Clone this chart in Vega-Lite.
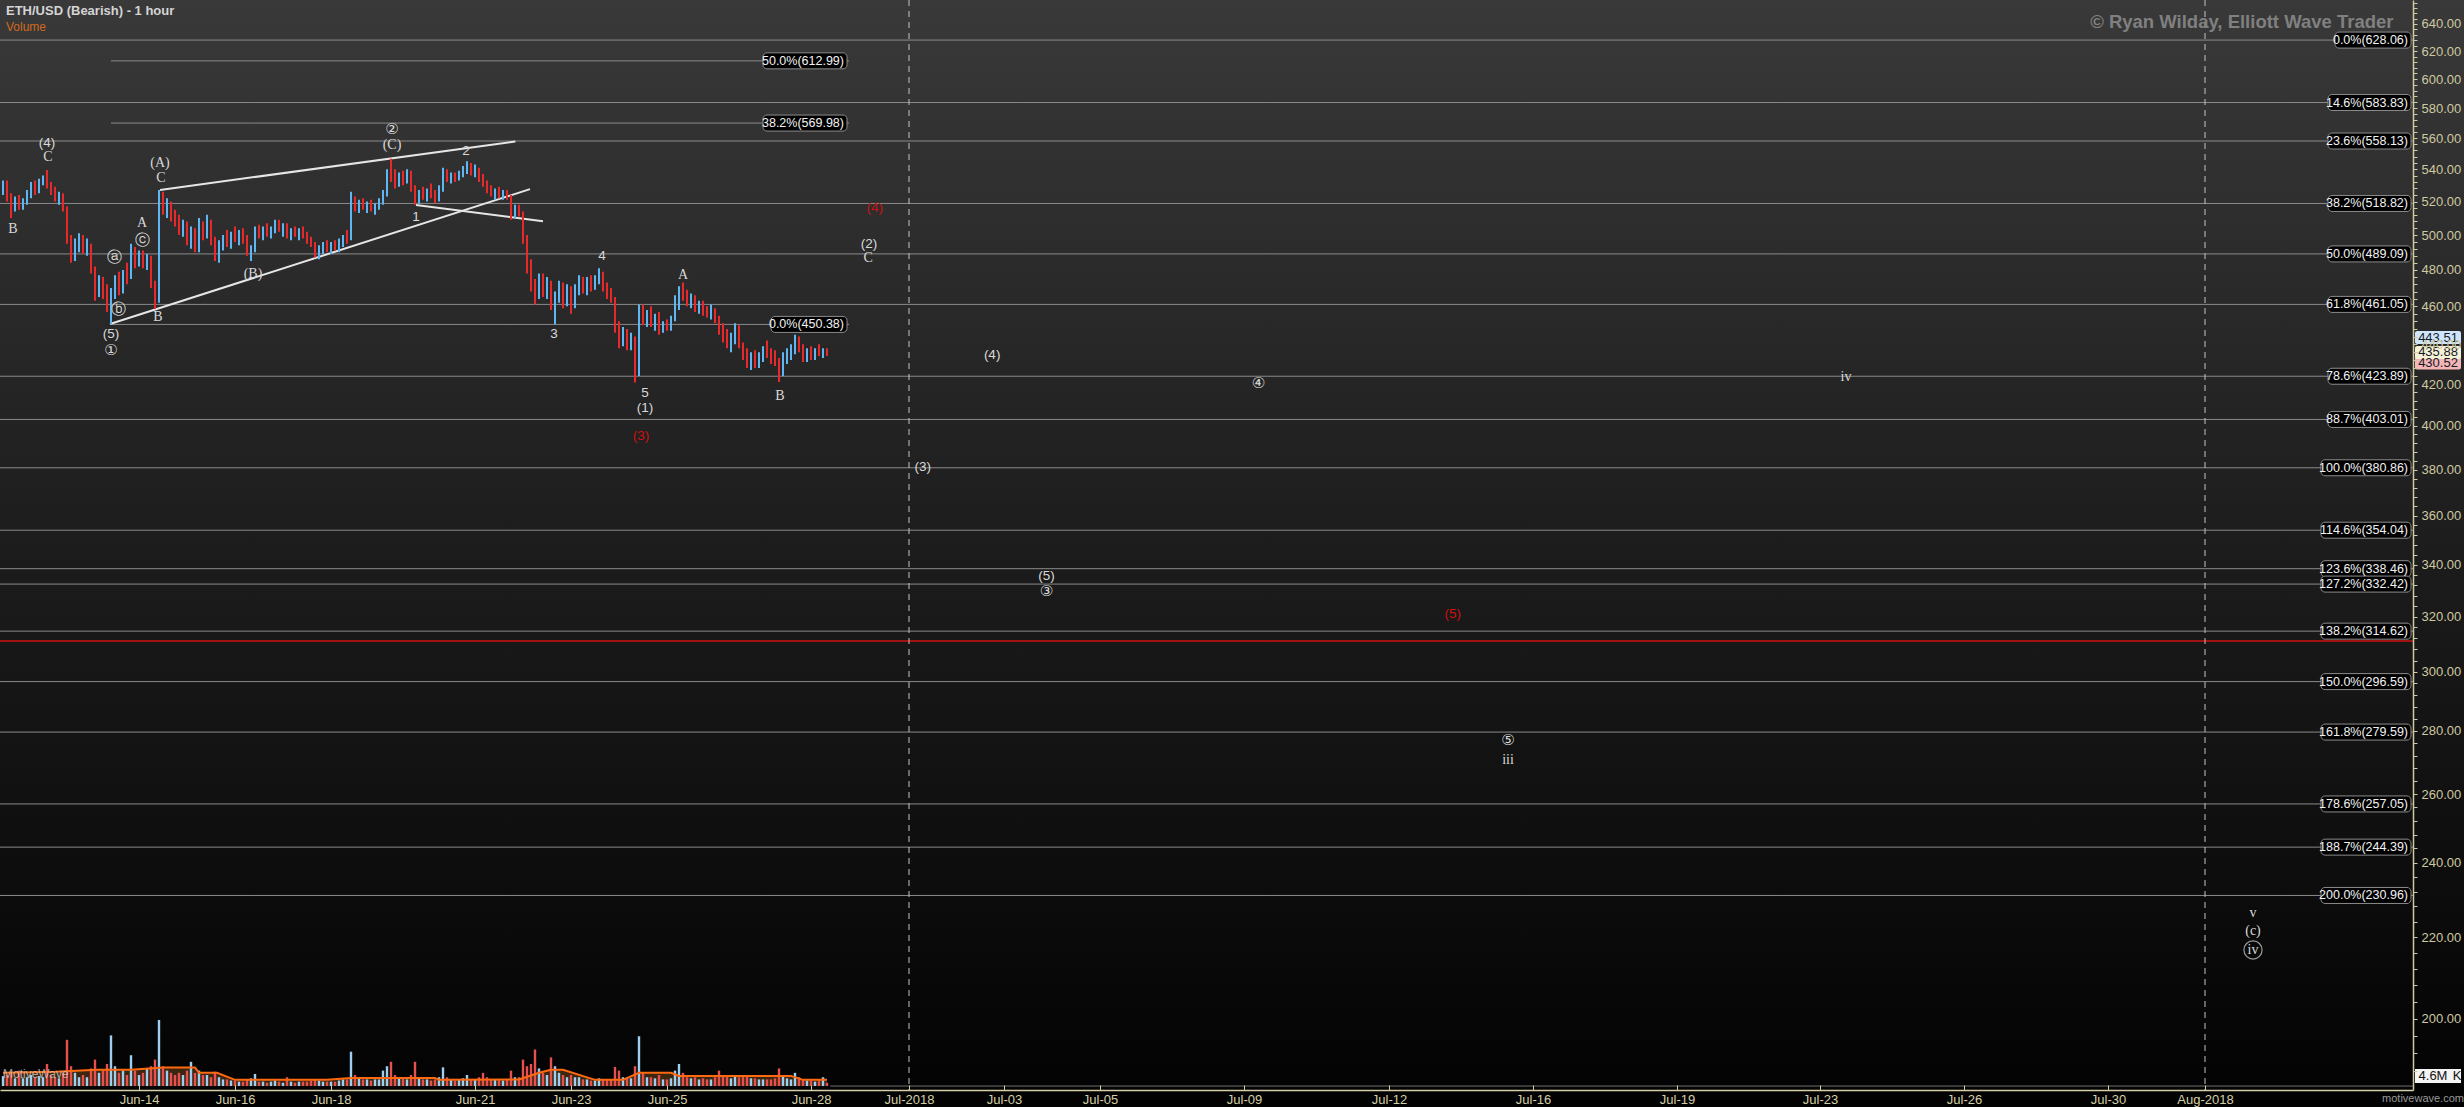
{
"$schema": "https://vega.github.io/schema/vega-lite/v6.json",
"width": 2413, "height": 1090,
"autosize": {"type": "none"},
"padding": {"left": 0, "top": 0, "right": 51, "bottom": 17},
"background": "#000000",
"config": {"view": {"stroke": null}, "font": "Liberation Sans"},
"title": {"text": "ETH/USD (Bearish) - 1 hour", "subtitle": "Volume", "anchor": "start", "frame": "group", "orient": "top", "offset": -36, "dx": 6, "font": "Liberation Sans", "fontSize": 13, "fontWeight": "bold", "color": "#d4d4d4", "subtitleFont": "Liberation Sans", "subtitleFontSize": 12, "subtitleColor": "#d2691e", "subtitlePadding": 4},
"datasets": {
"bars": [
{"t":"2018-06-11T04:00Z","o":528,"h":533,"l":524,"c":531,"v":4.5},
{"t":"2018-06-11T06:00Z","o":531,"h":533,"l":520,"c":522,"v":5},
{"t":"2018-06-11T08:00Z","o":522,"h":525,"l":510,"c":518,"v":6},
{"t":"2018-06-11T10:00Z","o":518,"h":523,"l":514,"c":521,"v":3.5},
{"t":"2018-06-11T12:00Z","o":521,"h":524,"l":515,"c":517,"v":7},
{"t":"2018-06-11T14:00Z","o":517,"h":522,"l":515,"c":520,"v":3.5},
{"t":"2018-06-11T16:00Z","o":520,"h":527,"l":518,"c":525,"v":4},
{"t":"2018-06-11T18:00Z","o":525,"h":532,"l":522,"c":529,"v":5},
{"t":"2018-06-11T20:00Z","o":529,"h":533,"l":524,"c":527,"v":4},
{"t":"2018-06-11T22:00Z","o":527,"h":534,"l":525,"c":532,"v":4.5},
{"t":"2018-06-12T00:00Z","o":532,"h":536,"l":530,"c":535,"v":4},
{"t":"2018-06-12T02:00Z","o":535,"h":539.5,"l":528,"c":530,"v":10},
{"t":"2018-06-12T04:00Z","o":530,"h":532,"l":524,"c":526,"v":5},
{"t":"2018-06-12T06:00Z","o":526,"h":529,"l":520,"c":522,"v":4},
{"t":"2018-06-12T08:00Z","o":522,"h":526,"l":518,"c":524,"v":3.5},
{"t":"2018-06-12T10:00Z","o":524,"h":525,"l":514,"c":516,"v":6},
{"t":"2018-06-12T12:00Z","o":516,"h":517,"l":495,"c":498,"v":21},
{"t":"2018-06-12T14:00Z","o":498,"h":500,"l":484,"c":489,"v":9},
{"t":"2018-06-12T16:00Z","o":489,"h":498,"l":485,"c":495,"v":6},
{"t":"2018-06-12T18:00Z","o":495,"h":501,"l":490,"c":498,"v":4},
{"t":"2018-06-12T20:00Z","o":498,"h":500,"l":489,"c":492,"v":5},
{"t":"2018-06-12T22:00Z","o":492,"h":498,"l":488,"c":494,"v":4},
{"t":"2018-06-13T00:00Z","o":494,"h":495,"l":478,"c":480,"v":8},
{"t":"2018-06-13T02:00Z","o":480,"h":482,"l":463,"c":468,"v":12},
{"t":"2018-06-13T04:00Z","o":468,"h":477,"l":465,"c":474,"v":6},
{"t":"2018-06-13T06:00Z","o":474,"h":476,"l":464,"c":467,"v":7},
{"t":"2018-06-13T08:00Z","o":467,"h":472,"l":457,"c":461,"v":10},
{"t":"2018-06-13T10:00Z","o":461,"h":470,"l":450.4,"c":466,"v":23},
{"t":"2018-06-13T12:00Z","o":466,"h":477,"l":464,"c":474,"v":9},
{"t":"2018-06-13T14:00Z","o":474,"h":479,"l":466,"c":469,"v":6},
{"t":"2018-06-13T16:00Z","o":469,"h":480,"l":467,"c":478,"v":7},
{"t":"2018-06-13T18:00Z","o":478,"h":484,"l":472,"c":476,"v":5},
{"t":"2018-06-13T20:00Z","o":476,"h":495,"l":475,"c":490,"v":14},
{"t":"2018-06-13T22:00Z","o":490,"h":493,"l":481,"c":484,"v":7},
{"t":"2018-06-14T00:00Z","o":484,"h":491,"l":482,"c":489,"v":5},
{"t":"2018-06-14T02:00Z","o":489,"h":491,"l":481,"c":483,"v":6},
{"t":"2018-06-14T04:00Z","o":483,"h":489,"l":480,"c":487,"v":8},
{"t":"2018-06-14T06:00Z","o":487,"h":488,"l":470,"c":472,"v":9},
{"t":"2018-06-14T08:00Z","o":472,"h":474,"l":458.6,"c":463,"v":12},
{"t":"2018-06-14T10:00Z","o":463,"h":527,"l":462,"c":520,"v":30},
{"t":"2018-06-14T12:00Z","o":520,"h":526,"l":512,"c":515,"v":9},
{"t":"2018-06-14T14:00Z","o":515,"h":522,"l":510,"c":518,"v":7},
{"t":"2018-06-14T16:00Z","o":518,"h":520,"l":508,"c":511,"v":6},
{"t":"2018-06-14T18:00Z","o":511,"h":515,"l":505,"c":508,"v":5},
{"t":"2018-06-14T20:00Z","o":508,"h":512,"l":500,"c":503,"v":6},
{"t":"2018-06-14T22:00Z","o":503,"h":509,"l":499,"c":506,"v":5},
{"t":"2018-06-15T00:00Z","o":506,"h":508,"l":494,"c":497,"v":7},
{"t":"2018-06-15T02:00Z","o":497,"h":505,"l":492,"c":502,"v":11},
{"t":"2018-06-15T04:00Z","o":502,"h":504,"l":490,"c":492,"v":6},
{"t":"2018-06-15T06:00Z","o":492,"h":510,"l":490,"c":506,"v":7},
{"t":"2018-06-15T08:00Z","o":506,"h":508,"l":497,"c":500,"v":5},
{"t":"2018-06-15T10:00Z","o":500,"h":512,"l":498,"c":508,"v":5},
{"t":"2018-06-15T12:00Z","o":508,"h":509,"l":494,"c":496,"v":4},
{"t":"2018-06-15T14:00Z","o":496,"h":499,"l":485,"c":488,"v":6.5},
{"t":"2018-06-15T16:00Z","o":488,"h":497,"l":484,"c":495,"v":4},
{"t":"2018-06-15T18:00Z","o":495,"h":500,"l":491,"c":498,"v":3},
{"t":"2018-06-15T20:00Z","o":498,"h":503,"l":493,"c":495,"v":3},
{"t":"2018-06-15T22:00Z","o":495,"h":502,"l":492,"c":500,"v":2.5},
{"t":"2018-06-16T00:00Z","o":500,"h":505,"l":496,"c":498,"v":2.5},
{"t":"2018-06-16T02:00Z","o":498,"h":503,"l":494,"c":501,"v":2},
{"t":"2018-06-16T04:00Z","o":501,"h":504,"l":495,"c":497,"v":2},
{"t":"2018-06-16T06:00Z","o":497,"h":500,"l":488,"c":490,"v":3},
{"t":"2018-06-16T08:00Z","o":490,"h":494,"l":485,"c":492,"v":3.5},
{"t":"2018-06-16T10:00Z","o":492,"h":505,"l":490,"c":503,"v":5.5},
{"t":"2018-06-16T12:00Z","o":503,"h":506,"l":498,"c":500,"v":2},
{"t":"2018-06-16T14:00Z","o":500,"h":505,"l":497,"c":503,"v":2},
{"t":"2018-06-16T16:00Z","o":503,"h":507,"l":499,"c":501,"v":1.5},
{"t":"2018-06-16T18:00Z","o":501,"h":505,"l":498,"c":504,"v":2},
{"t":"2018-06-16T20:00Z","o":504,"h":509,"l":501,"c":506,"v":2.5},
{"t":"2018-06-16T22:00Z","o":506,"h":509,"l":502,"c":503,"v":2},
{"t":"2018-06-17T00:00Z","o":503,"h":507,"l":499,"c":505,"v":1.5},
{"t":"2018-06-17T02:00Z","o":505,"h":507,"l":498,"c":500,"v":4},
{"t":"2018-06-17T04:00Z","o":500,"h":504,"l":497,"c":502,"v":2},
{"t":"2018-06-17T06:00Z","o":502,"h":505,"l":499,"c":500,"v":1.5},
{"t":"2018-06-17T08:00Z","o":500,"h":504,"l":497,"c":503,"v":2},
{"t":"2018-06-17T10:00Z","o":503,"h":505,"l":498,"c":499,"v":2},
{"t":"2018-06-17T12:00Z","o":499,"h":502,"l":495,"c":497,"v":2},
{"t":"2018-06-17T14:00Z","o":497,"h":499,"l":493,"c":494,"v":2.5},
{"t":"2018-06-17T16:00Z","o":494,"h":496,"l":487,"c":489,"v":3},
{"t":"2018-06-17T18:00Z","o":489,"h":494,"l":486,"c":492,"v":2.5},
{"t":"2018-06-17T20:00Z","o":492,"h":496,"l":489,"c":494,"v":2},
{"t":"2018-06-17T22:00Z","o":494,"h":497,"l":490,"c":492,"v":2},
{"t":"2018-06-18T00:00Z","o":492,"h":496,"l":489,"c":495,"v":2},
{"t":"2018-06-18T02:00Z","o":495,"h":497,"l":491,"c":493,"v":2},
{"t":"2018-06-18T04:00Z","o":493,"h":498,"l":490,"c":496,"v":2.5},
{"t":"2018-06-18T06:00Z","o":496,"h":500,"l":493,"c":499,"v":3},
{"t":"2018-06-18T08:00Z","o":499,"h":503,"l":495,"c":498,"v":3},
{"t":"2018-06-18T10:00Z","o":498,"h":526,"l":497,"c":520,"v":15.6},
{"t":"2018-06-18T12:00Z","o":520,"h":523,"l":514,"c":517,"v":5},
{"t":"2018-06-18T14:00Z","o":517,"h":521,"l":513,"c":519,"v":3.5},
{"t":"2018-06-18T16:00Z","o":519,"h":522,"l":515,"c":516,"v":3},
{"t":"2018-06-18T18:00Z","o":516,"h":520,"l":513,"c":518,"v":3},
{"t":"2018-06-18T20:00Z","o":518,"h":521,"l":514,"c":515,"v":2.5},
{"t":"2018-06-18T22:00Z","o":515,"h":519,"l":512,"c":517,"v":3},
{"t":"2018-06-19T00:00Z","o":517,"h":522,"l":515,"c":520,"v":3},
{"t":"2018-06-19T02:00Z","o":520,"h":527,"l":518,"c":525,"v":7},
{"t":"2018-06-19T04:00Z","o":525,"h":540,"l":523,"c":537,"v":9},
{"t":"2018-06-19T06:00Z","o":537,"h":546.6,"l":532,"c":535,"v":11},
{"t":"2018-06-19T08:00Z","o":535,"h":540,"l":528,"c":531,"v":5},
{"t":"2018-06-19T10:00Z","o":531,"h":538,"l":529,"c":536,"v":4},
{"t":"2018-06-19T12:00Z","o":536,"h":539,"l":530,"c":533,"v":3.5},
{"t":"2018-06-19T14:00Z","o":533,"h":540,"l":531,"c":538,"v":3},
{"t":"2018-06-19T16:00Z","o":538,"h":539,"l":526,"c":528,"v":5},
{"t":"2018-06-19T18:00Z","o":528,"h":530,"l":518,"c":521,"v":11},
{"t":"2018-06-19T20:00Z","o":521,"h":527,"l":519,"c":525,"v":4},
{"t":"2018-06-19T22:00Z","o":525,"h":529,"l":521,"c":523,"v":3},
{"t":"2018-06-20T00:00Z","o":523,"h":528,"l":520,"c":527,"v":3},
{"t":"2018-06-20T02:00Z","o":527,"h":531,"l":522,"c":524,"v":2.5},
{"t":"2018-06-20T04:00Z","o":524,"h":527,"l":519,"c":522,"v":3},
{"t":"2018-06-20T06:00Z","o":522,"h":530,"l":520,"c":528,"v":4},
{"t":"2018-06-20T08:00Z","o":528,"h":541,"l":526,"c":538,"v":8.5},
{"t":"2018-06-20T10:00Z","o":538,"h":540,"l":532,"c":534,"v":4},
{"t":"2018-06-20T12:00Z","o":534,"h":538,"l":531,"c":536,"v":3},
{"t":"2018-06-20T14:00Z","o":536,"h":538,"l":532,"c":534,"v":2.5},
{"t":"2018-06-20T16:00Z","o":534,"h":539,"l":533,"c":538,"v":3},
{"t":"2018-06-20T18:00Z","o":538,"h":542,"l":535,"c":540,"v":3.5},
{"t":"2018-06-20T20:00Z","o":540,"h":545,"l":537,"c":541,"v":5},
{"t":"2018-06-20T22:00Z","o":541,"h":544,"l":536,"c":538,"v":3},
{"t":"2018-06-21T00:00Z","o":538,"h":543,"l":535,"c":540,"v":3},
{"t":"2018-06-21T02:00Z","o":540,"h":541,"l":532,"c":534,"v":4},
{"t":"2018-06-21T04:00Z","o":534,"h":537,"l":529,"c":531,"v":6},
{"t":"2018-06-21T06:00Z","o":531,"h":533,"l":525,"c":527,"v":4},
{"t":"2018-06-21T08:00Z","o":527,"h":530,"l":523,"c":525,"v":3},
{"t":"2018-06-21T10:00Z","o":525,"h":528,"l":521,"c":526,"v":3},
{"t":"2018-06-21T12:00Z","o":526,"h":529,"l":522,"c":523,"v":3},
{"t":"2018-06-21T14:00Z","o":523,"h":527,"l":521,"c":525,"v":2.5},
{"t":"2018-06-21T16:00Z","o":525,"h":527,"l":521,"c":522,"v":3},
{"t":"2018-06-21T18:00Z","o":522,"h":524,"l":509,"c":512,"v":7},
{"t":"2018-06-21T20:00Z","o":512,"h":518,"l":510,"c":516,"v":4},
{"t":"2018-06-21T22:00Z","o":516,"h":518,"l":511,"c":513,"v":4},
{"t":"2018-06-22T00:00Z","o":513,"h":514,"l":495,"c":498,"v":12},
{"t":"2018-06-22T02:00Z","o":498,"h":500,"l":478,"c":482,"v":9},
{"t":"2018-06-22T04:00Z","o":482,"h":486,"l":468,"c":472,"v":10},
{"t":"2018-06-22T06:00Z","o":472,"h":475,"l":461,"c":466,"v":16.6},
{"t":"2018-06-22T08:00Z","o":466,"h":478,"l":464,"c":475,"v":8},
{"t":"2018-06-22T10:00Z","o":475,"h":478,"l":465,"c":468,"v":6},
{"t":"2018-06-22T12:00Z","o":468,"h":476,"l":464,"c":472,"v":5},
{"t":"2018-06-22T14:00Z","o":472,"h":474,"l":458,"c":461,"v":13},
{"t":"2018-06-22T16:00Z","o":461,"h":468,"l":450.4,"c":465,"v":9},
{"t":"2018-06-22T18:00Z","o":465,"h":474,"l":462,"c":470,"v":6},
{"t":"2018-06-22T20:00Z","o":470,"h":473,"l":459,"c":463,"v":5},
{"t":"2018-06-22T22:00Z","o":463,"h":472,"l":460,"c":468,"v":4},
{"t":"2018-06-23T00:00Z","o":468,"h":471,"l":456,"c":462,"v":5},
{"t":"2018-06-23T02:00Z","o":462,"h":472,"l":459,"c":469,"v":4},
{"t":"2018-06-23T04:00Z","o":469,"h":477,"l":466,"c":474,"v":4},
{"t":"2018-06-23T06:00Z","o":474,"h":476,"l":467,"c":470,"v":3},
{"t":"2018-06-23T08:00Z","o":470,"h":476,"l":466,"c":473,"v":3},
{"t":"2018-06-23T10:00Z","o":473,"h":477,"l":468,"c":471,"v":2.5},
{"t":"2018-06-23T12:00Z","o":471,"h":477,"l":469,"c":475,"v":2.5},
{"t":"2018-06-23T14:00Z","o":475,"h":481,"l":472,"c":478,"v":3.5},
{"t":"2018-06-23T16:00Z","o":478,"h":479,"l":468,"c":470,"v":3},
{"t":"2018-06-23T18:00Z","o":470,"h":473,"l":464,"c":467,"v":3},
{"t":"2018-06-23T20:00Z","o":467,"h":470,"l":462,"c":464,"v":3},
{"t":"2018-06-23T22:00Z","o":464,"h":465,"l":446,"c":449,"v":8.7},
{"t":"2018-06-24T00:00Z","o":449,"h":452,"l":438,"c":441,"v":7},
{"t":"2018-06-24T02:00Z","o":441,"h":449,"l":439,"c":446,"v":4},
{"t":"2018-06-24T04:00Z","o":446,"h":448,"l":437,"c":440,"v":4},
{"t":"2018-06-24T06:00Z","o":440,"h":446,"l":437,"c":443,"v":3.5},
{"t":"2018-06-24T08:00Z","o":443,"h":444,"l":420.8,"c":425,"v":9},
{"t":"2018-06-24T10:00Z","o":425,"h":461,"l":424,"c":455,"v":22.6},
{"t":"2018-06-24T12:00Z","o":455,"h":461,"l":450,"c":452,"v":6},
{"t":"2018-06-24T14:00Z","o":452,"h":458,"l":449,"c":456,"v":4},
{"t":"2018-06-24T16:00Z","o":456,"h":460,"l":449,"c":451,"v":4},
{"t":"2018-06-24T18:00Z","o":451,"h":456,"l":447,"c":454,"v":3.5},
{"t":"2018-06-24T20:00Z","o":454,"h":457,"l":445,"c":448,"v":5},
{"t":"2018-06-24T22:00Z","o":448,"h":452,"l":446,"c":450,"v":3},
{"t":"2018-06-25T00:00Z","o":450,"h":453,"l":447,"c":449,"v":3},
{"t":"2018-06-25T02:00Z","o":449,"h":455,"l":447,"c":453,"v":3.5},
{"t":"2018-06-25T04:00Z","o":453,"h":466,"l":452,"c":463,"v":7},
{"t":"2018-06-25T06:00Z","o":463,"h":471,"l":458,"c":468,"v":10},
{"t":"2018-06-25T08:00Z","o":468,"h":473,"l":463,"c":465,"v":6},
{"t":"2018-06-25T10:00Z","o":465,"h":469,"l":460,"c":462,"v":4},
{"t":"2018-06-25T12:00Z","o":462,"h":467,"l":459,"c":464,"v":3.5},
{"t":"2018-06-25T14:00Z","o":464,"h":466,"l":457,"c":459,"v":4},
{"t":"2018-06-25T16:00Z","o":459,"h":463,"l":456,"c":461,"v":3},
{"t":"2018-06-25T18:00Z","o":461,"h":463,"l":455,"c":457,"v":3.5},
{"t":"2018-06-25T20:00Z","o":457,"h":460,"l":454,"c":456,"v":3},
{"t":"2018-06-25T22:00Z","o":456,"h":461,"l":453,"c":458,"v":3},
{"t":"2018-06-26T00:00Z","o":458,"h":459,"l":451,"c":453,"v":4},
{"t":"2018-06-26T02:00Z","o":453,"h":455,"l":445,"c":447,"v":7},
{"t":"2018-06-26T04:00Z","o":447,"h":451,"l":441,"c":444,"v":5},
{"t":"2018-06-26T06:00Z","o":444,"h":448,"l":438,"c":441,"v":4.5},
{"t":"2018-06-26T08:00Z","o":441,"h":446,"l":436,"c":443,"v":3.5},
{"t":"2018-06-26T10:00Z","o":443,"h":451,"l":440,"c":448,"v":5},
{"t":"2018-06-26T12:00Z","o":448,"h":450,"l":438,"c":440,"v":4},
{"t":"2018-06-26T14:00Z","o":440,"h":441,"l":432,"c":434,"v":5},
{"t":"2018-06-26T16:00Z","o":434,"h":438,"l":428,"c":431,"v":4.5},
{"t":"2018-06-26T18:00Z","o":431,"h":436,"l":427,"c":434,"v":3.5},
{"t":"2018-06-26T20:00Z","o":434,"h":437,"l":428,"c":430,"v":3.5},
{"t":"2018-06-26T22:00Z","o":430,"h":436,"l":428,"c":434,"v":3},
{"t":"2018-06-27T00:00Z","o":434,"h":439,"l":431,"c":437,"v":3},
{"t":"2018-06-27T02:00Z","o":437,"h":442,"l":433,"c":435,"v":3},
{"t":"2018-06-27T04:00Z","o":435,"h":438,"l":430,"c":432,"v":3},
{"t":"2018-06-27T06:00Z","o":432,"h":437,"l":429,"c":431,"v":3.5},
{"t":"2018-06-27T08:00Z","o":431,"h":433,"l":421,"c":426,"v":8},
{"t":"2018-06-27T10:00Z","o":426,"h":436,"l":424,"c":434,"v":5},
{"t":"2018-06-27T12:00Z","o":434,"h":438,"l":430,"c":436,"v":3.5},
{"t":"2018-06-27T14:00Z","o":436,"h":440,"l":432,"c":438,"v":3},
{"t":"2018-06-27T16:00Z","o":438,"h":445,"l":435,"c":443,"v":6},
{"t":"2018-06-27T18:00Z","o":443,"h":444,"l":436,"c":438,"v":4},
{"t":"2018-06-27T20:00Z","o":438,"h":440,"l":431,"c":433,"v":3},
{"t":"2018-06-27T22:00Z","o":433,"h":438,"l":431,"c":436,"v":2.5},
{"t":"2018-06-28T00:00Z","o":436,"h":439,"l":432,"c":434,"v":2.5},
{"t":"2018-06-28T02:00Z","o":434,"h":438,"l":432,"c":437,"v":2},
{"t":"2018-06-28T04:00Z","o":437,"h":440,"l":434,"c":435,"v":2.5},
{"t":"2018-06-28T06:00Z","o":435,"h":438,"l":433,"c":437,"v":4},
{"t":"2018-06-28T08:00Z","o":437,"h":438,"l":434,"c":435.88,"v":1.5}
],
"ma": [
{"t":"2018-06-11T04:00Z","v":6},{"t":"2018-06-12T06:00Z","v":6.5},{"t":"2018-06-13T03:00Z","v":7.4},{"t":"2018-06-13T20:00Z","v":7.4},{"t":"2018-06-14T12:00Z","v":8.4},{"t":"2018-06-15T04:00Z","v":8.4},{"t":"2018-06-15T06:00Z","v":6},{"t":"2018-06-15T15:00Z","v":6},{"t":"2018-06-16T00:00Z","v":2.8},{"t":"2018-06-17T22:00Z","v":2.8},{"t":"2018-06-18T10:00Z","v":3.7},{"t":"2018-06-20T04:00Z","v":3.7},{"t":"2018-06-20T06:00Z","v":2.8},{"t":"2018-06-21T22:00Z","v":3},{"t":"2018-06-22T08:00Z","v":6},{"t":"2018-06-22T14:00Z","v":7.4},{"t":"2018-06-22T20:00Z","v":7.4},{"t":"2018-06-23T12:00Z","v":2.8},{"t":"2018-06-24T02:00Z","v":2.8},{"t":"2018-06-24T10:00Z","v":6},{"t":"2018-06-25T02:00Z","v":6},{"t":"2018-06-25T06:00Z","v":4.6},{"t":"2018-06-27T14:00Z","v":4.6},{"t":"2018-06-27T20:00Z","v":2.8},{"t":"2018-06-28T08:00Z","v":2.8}
],
"fib": [
{"set":"A","p":628.06,"label":"0.0%(628.06)"},
{"set":"A","p":583.83,"label":"14.6%(583.83)"},
{"set":"A","p":558.13,"label":"23.6%(558.13)"},
{"set":"A","p":518.82,"label":"38.2%(518.82)"},
{"set":"A","p":489.09,"label":"50.0%(489.09)"},
{"set":"A","p":461.05,"label":"61.8%(461.05)"},
{"set":"A","p":423.89,"label":"78.6%(423.89)"},
{"set":"A","p":403.01,"label":"88.7%(403.01)"},
{"set":"A","p":380.86,"label":"100.0%(380.86)"},
{"set":"A","p":354.04,"label":"114.6%(354.04)"},
{"set":"A","p":338.46,"label":"123.6%(338.46)"},
{"set":"A","p":332.42,"label":"127.2%(332.42)"},
{"set":"A","p":314.62,"label":"138.2%(314.62)"},
{"set":"A","p":296.59,"label":"150.0%(296.59)"},
{"set":"A","p":279.59,"label":"161.8%(279.59)"},
{"set":"A","p":257.05,"label":"178.6%(257.05)"},
{"set":"A","p":244.39,"label":"188.7%(244.39)"},
{"set":"A","p":230.96,"label":"200.0%(230.96)"},
{"set":"B","p":612.99,"label":"50.0%(612.99)"},
{"set":"B","p":569.98,"label":"38.2%(569.98)"},
{"set":"B","p":450.38,"label":"0.0%(450.38)"}
],
"trend": [
{"id":1,"t":"2018-06-13T09:30Z","p":450.6},{"id":1,"t":"2018-06-22T03:30Z","p":527.6},
{"id":2,"t":"2018-06-14T10:30Z","p":527.1},{"id":2,"t":"2018-06-21T20:12Z","p":557.8},
{"id":3,"t":"2018-06-19T18:30Z","p":517.9},{"id":3,"t":"2018-06-22T10:00Z","p":508.1}
],
"waves": [
{"t":"2018-06-12T02:30Z","p":547.8,"label":"C","kind":"letter"},
{"t":"2018-06-11T09:00Z","p":503.6,"label":"B","kind":"letter"},
{"t":"2018-06-14T10:30Z","p":544.0,"label":"(A)","kind":"letter"},
{"t":"2018-06-14T11:00Z","p":534.5,"label":"C","kind":"letter"},
{"t":"2018-06-14T01:30Z","p":507.1,"label":"A","kind":"letter"},
{"t":"2018-06-14T09:30Z","p":454.3,"label":"B","kind":"letter"},
{"t":"2018-06-16T09:00Z","p":477.7,"label":"(B)","kind":"letter"},
{"t":"2018-06-19T06:30Z","p":555.5,"label":"(C)","kind":"letter"},
{"t":"2018-06-25T08:00Z","p":477.2,"label":"A","kind":"letter"},
{"t":"2018-06-27T08:30Z","p":414.2,"label":"B","kind":"letter"},
{"t":"2018-06-29T15:45Z","p":486.8,"label":"C","kind":"letter"},
{"t":"2018-07-15T07:20Z","p":270.6,"label":"iii","kind":"letter"},
{"t":"2018-07-23T13:00Z","p":423.5,"label":"iv","kind":"letter"},
{"t":"2018-08-02T00:00Z","p":226.3,"label":"v","kind":"letter"},
{"t":"2018-08-02T00:00Z","p":221.6,"label":"(c)","kind":"letter"},
{"t":"2018-08-02T00:00Z","p":216.7,"label":"iv","kind":"ringed"},
{"t":"2018-06-12T02:00Z","p":556.8,"label":"(4)","kind":"number"},
{"t":"2018-06-13T10:00Z","p":445.4,"label":"(5)","kind":"number"},
{"t":"2018-06-19T18:30Z","p":510.7,"label":"1","kind":"number"},
{"t":"2018-06-20T19:30Z","p":551.7,"label":"2","kind":"number"},
{"t":"2018-06-22T15:30Z","p":445.4,"label":"3","kind":"number"},
{"t":"2018-06-23T15:30Z","p":487.9,"label":"4","kind":"number"},
{"t":"2018-06-24T13:00Z","p":415.7,"label":"5","kind":"number"},
{"t":"2018-06-24T13:00Z","p":408.4,"label":"(1)","kind":"number"},
{"t":"2018-06-29T16:30Z","p":494.8,"label":"(2)","kind":"number"},
{"t":"2018-07-01T07:00Z","p":381.2,"label":"(3)","kind":"number"},
{"t":"2018-07-02T18:00Z","p":434.6,"label":"(4)","kind":"number"},
{"t":"2018-07-03T21:15Z","p":335.6,"label":"(5)","kind":"number"},
{"t":"2018-06-13T10:00Z","p":437.1,"label":"①","kind":"circled"},
{"t":"2018-06-13T11:30Z","p":487.4,"label":"ⓐ","kind":"circled"},
{"t":"2018-06-13T13:30Z","p":458.6,"label":"ⓑ","kind":"circled"},
{"t":"2018-06-14T01:30Z","p":497.1,"label":"ⓒ","kind":"circled"},
{"t":"2018-06-19T06:30Z","p":566.0,"label":"②","kind":"circled"},
{"t":"2018-07-03T21:15Z","p":329.8,"label":"③","kind":"circled"},
{"t":"2018-07-09T07:12Z","p":420.7,"label":"④","kind":"circled"},
{"t":"2018-07-15T07:20Z","p":277.0,"label":"⑤","kind":"circled"},
{"t":"2018-06-29T21:00Z","p":516.1,"label":"(4)","kind":"alt"},
{"t":"2018-06-24T11:00Z","p":395.3,"label":"(3)","kind":"alt"},
{"t":"2018-07-13T18:30Z","p":321.0,"label":"(5)","kind":"alt"}
],
"months": [{"t":"2018-07-01T00:00Z"},{"t":"2018-08-01T00:00Z"}],
"levels": [{"p":311}],
"tags": [{"kind":"low","p":430.52,"label":"430.52"},{"kind":"last","p":435.88,"label":"435.88"},{"kind":"high","p":443.51,"label":"443.51"}],
"voltag": [{"v":4.6,"label":"4.6M"}]
},
"layer": [
{
"layer": [
{
"data": {"values": [{}]},
"mark": {"type": "rect", "stroke": null, "fill": {"gradient": "linear", "x1": 0, "y1": 0, "x2": 0, "y2": 1, "stops": [{"offset": 0, "color": "#393939"}, {"offset": 0.5, "color": "#1c1c1c"}, {"offset": 1, "color": "#020202"}]}},
"encoding": {
"x": {"datum": {"year": 2018, "month": 6, "date": 11, "hours": 2, "minutes": 30, "utc": true}, "type": "temporal",
"scale": {"type": "utc", "nice": false,
"domainRaw": {"expr": "[utc(2018,5,11,2,30), utc(2018,5,28,9), utc(2018,6,1), utc(2018,6,3), utc(2018,6,5), utc(2018,6,9), utc(2018,6,12), utc(2018,6,16), utc(2018,6,19), utc(2018,6,23), utc(2018,6,26), utc(2018,6,30), utc(2018,7,1), utc(2018,7,5,8)]"},
"range": [0, 829, 909, 1004, 1100, 1244, 1389, 1533, 1677, 1820, 1964, 2108, 2205, 2413]}},
"x2": {"datum": {"year": 2018, "month": 8, "date": 6, "hours": 12, "utc": true}},
"y": {"datum": 658.2, "type": "quantitative", "scale": {"type": "log", "domain": [183.96, 658.2], "nice": false}},
"y2": {"datum": 180}
}
},
{
"data": {"name": "fib"}, "transform": [{"filter": "datum.set === 'A'"}],
"mark": {"type": "rule", "color": "#8a8a8a", "strokeWidth": 1},
"encoding": {
"x": {"datum": {"year": 2018, "month": 6, "date": 11, "hours": 2, "minutes": 30, "utc": true}, "type": "temporal"},
"x2": {"datum": {"year": 2018, "month": 8, "date": 5, "hours": 8, "utc": true}},
"y": {"field": "p", "type": "quantitative"}
}
},
{
"data": {"name": "fib"}, "transform": [{"filter": "datum.set === 'B'"}],
"mark": {"type": "rule", "color": "#8a8a8a", "strokeWidth": 1},
"encoding": {
"x": {"datum": {"year": 2018, "month": 6, "date": 13, "hours": 10, "utc": true}, "type": "temporal"},
"x2": {"datum": {"year": 2018, "month": 6, "date": 29, "hours": 0, "minutes": 45, "utc": true}},
"y": {"field": "p", "type": "quantitative"}
}
},
{
"data": {"name": "levels"},
"mark": {"type": "rule", "color": "#cf1010", "strokeWidth": 1.5},
"encoding": {"y": {"field": "p", "type": "quantitative"}}
},
{
"data": {"name": "months"},
"mark": {"type": "rule", "color": "#c4c4c4", "strokeWidth": 1, "strokeDash": [6, 5]},
"encoding": {"x": {"field": "t", "type": "temporal"}}
},
{
"data": {"name": "trend"},
"mark": {"type": "line", "color": "#e6e6e6", "strokeWidth": 2},
"encoding": {
"x": {"field": "t", "type": "temporal"},
"y": {"field": "p", "type": "quantitative"},
"detail": {"field": "id", "type": "nominal"}
}
},
{
"data": {"name": "bars"},
"mark": {"type": "rule", "strokeWidth": 2},
"encoding": {
"x": {"field": "t", "type": "temporal",
"axis": {"title": null, "zindex": 1, "grid": false,
"values": [
{"year": 2018, "month": 6, "date": 14, "utc": true},
{"year": 2018, "month": 6, "date": 16, "utc": true},
{"year": 2018, "month": 6, "date": 18, "utc": true},
{"year": 2018, "month": 6, "date": 21, "utc": true},
{"year": 2018, "month": 6, "date": 23, "utc": true},
{"year": 2018, "month": 6, "date": 25, "utc": true},
{"year": 2018, "month": 6, "date": 28, "utc": true},
{"year": 2018, "month": 7, "date": 1, "utc": true},
{"year": 2018, "month": 7, "date": 3, "utc": true},
{"year": 2018, "month": 7, "date": 5, "utc": true},
{"year": 2018, "month": 7, "date": 9, "utc": true},
{"year": 2018, "month": 7, "date": 12, "utc": true},
{"year": 2018, "month": 7, "date": 16, "utc": true},
{"year": 2018, "month": 7, "date": 19, "utc": true},
{"year": 2018, "month": 7, "date": 23, "utc": true},
{"year": 2018, "month": 7, "date": 26, "utc": true},
{"year": 2018, "month": 7, "date": 30, "utc": true},
{"year": 2018, "month": 8, "date": 1, "utc": true}],
"labelExpr": "utcdate(datum.value) === 1 ? utcFormat(datum.value, '%b-%Y') : utcFormat(datum.value, '%b-%d')",
"labelColor": "#d6d0a8", "labelFont": "Liberation Sans", "labelFontSize": 13,
"domainColor": "#d6d0a8", "domainWidth": 1.5, "tickColor": "#d6d0a8", "tickSize": -5, "labelPadding": 8,
"labelOverlap": false, "labelFlush": false, "labelBound": false}},
"y": {"field": "l", "type": "quantitative",
"axis": {"orient": "right", "title": null, "zindex": 1, "grid": false,
"values": [188,192,196,200,204,208,212,216,220,224,228,232,236,240,244,248,252,256,260,264,268,272,276,280,284,288,292,296,300,304,308,312,316,320,324,328,332,336,340,344,348,352,356,360,364,368,372,376,380,384,388,392,396,400,404,408,412,416,420,424,428,432,436,440,444,448,452,456,460,464,468,472,476,480,484,488,492,496,500,504,508,512,516,520,524,528,532,536,540,544,548,552,556,560,564,568,572,576,580,584,588,592,596,600,604,608,612,616,620,624,628,632,636,640,644,648,652,656],
"labelExpr": "datum.value % 20 === 0 ? format(datum.value, '.2f') : ''",
"tickSize": 4, "labelPadding": 4, "labelColor": "#cfc9a0", "labelFont": "Liberation Sans", "labelFontSize": 13,
"domainColor": "#cfc9a0", "domainWidth": 1.5, "tickColor": "#cfc9a0",
"labelOverlap": false, "labelFlush": false, "labelBound": false}},
"y2": {"field": "h"},
"color": {"condition": {"test": "datum.c >= datum.o", "value": "#5fb6f2"}, "value": "#e8292c"}
}
},
{
"data": {"name": "fib"}, "transform": [{"filter": "datum.set === 'A' && length(datum.label) === 14"}],
"mark": {"type": "rect", "fill": "#000000", "stroke": "#8c8c8c", "strokeWidth": 1, "cornerRadius": 4, "xOffset": -92, "x2Offset": -2, "yOffset": -8, "y2Offset": 8},
"encoding": {
"x": {"datum": {"year": 2018, "month": 8, "date": 5, "hours": 8, "utc": true}, "type": "temporal"},
"x2": {"datum": {"year": 2018, "month": 8, "date": 5, "hours": 8, "utc": true}},
"y": {"field": "p", "type": "quantitative"}, "y2": {"field": "p"}
}
},
{
"data": {"name": "fib"}, "transform": [{"filter": "datum.set === 'A' && length(datum.label) === 13"}],
"mark": {"type": "rect", "fill": "#000000", "stroke": "#8c8c8c", "strokeWidth": 1, "cornerRadius": 4, "xOffset": -85, "x2Offset": -2, "yOffset": -8, "y2Offset": 8},
"encoding": {
"x": {"datum": {"year": 2018, "month": 8, "date": 5, "hours": 8, "utc": true}, "type": "temporal"},
"x2": {"datum": {"year": 2018, "month": 8, "date": 5, "hours": 8, "utc": true}},
"y": {"field": "p", "type": "quantitative"}, "y2": {"field": "p"}
}
},
{
"data": {"name": "fib"}, "transform": [{"filter": "datum.set === 'A' && length(datum.label) === 12"}],
"mark": {"type": "rect", "fill": "#000000", "stroke": "#8c8c8c", "strokeWidth": 1, "cornerRadius": 4, "xOffset": -78, "x2Offset": -2, "yOffset": -8, "y2Offset": 8},
"encoding": {
"x": {"datum": {"year": 2018, "month": 8, "date": 5, "hours": 8, "utc": true}, "type": "temporal"},
"x2": {"datum": {"year": 2018, "month": 8, "date": 5, "hours": 8, "utc": true}},
"y": {"field": "p", "type": "quantitative"}, "y2": {"field": "p"}
}
},
{
"data": {"name": "fib"}, "transform": [{"filter": "datum.set === 'B' && length(datum.label) === 13"}],
"mark": {"type": "rect", "fill": "#000000", "stroke": "#8c8c8c", "strokeWidth": 1, "cornerRadius": 4, "xOffset": -86, "x2Offset": -2, "yOffset": -8, "y2Offset": 8},
"encoding": {
"x": {"datum": {"year": 2018, "month": 6, "date": 29, "hours": 0, "minutes": 45, "utc": true}, "type": "temporal"},
"x2": {"datum": {"year": 2018, "month": 6, "date": 29, "hours": 0, "minutes": 45, "utc": true}},
"y": {"field": "p", "type": "quantitative"}, "y2": {"field": "p"}
}
},
{
"data": {"name": "fib"}, "transform": [{"filter": "datum.set === 'B' && length(datum.label) === 12"}],
"mark": {"type": "rect", "fill": "#000000", "stroke": "#8c8c8c", "strokeWidth": 1, "cornerRadius": 4, "xOffset": -78, "x2Offset": -2, "yOffset": -8, "y2Offset": 8},
"encoding": {
"x": {"datum": {"year": 2018, "month": 6, "date": 29, "hours": 0, "minutes": 45, "utc": true}, "type": "temporal"},
"x2": {"datum": {"year": 2018, "month": 6, "date": 29, "hours": 0, "minutes": 45, "utc": true}},
"y": {"field": "p", "type": "quantitative"}, "y2": {"field": "p"}
}
},
{
"data": {"name": "fib"}, "transform": [{"filter": "datum.set === 'A'"}],
"mark": {"type": "text", "align": "right", "dx": -5, "font": "Liberation Sans", "fontSize": 12.5, "color": "#f2f2f2"},
"encoding": {
"x": {"datum": {"year": 2018, "month": 8, "date": 5, "hours": 8, "utc": true}, "type": "temporal"},
"y": {"field": "p", "type": "quantitative"},
"text": {"field": "label"}
}
},
{
"data": {"name": "fib"}, "transform": [{"filter": "datum.set === 'B'"}],
"mark": {"type": "text", "align": "right", "dx": -5, "font": "Liberation Sans", "fontSize": 12.5, "color": "#f2f2f2"},
"encoding": {
"x": {"datum": {"year": 2018, "month": 6, "date": 29, "hours": 0, "minutes": 45, "utc": true}, "type": "temporal"},
"y": {"field": "p", "type": "quantitative"},
"text": {"field": "label"}
}
},
{
"data": {"name": "waves"}, "transform": [{"filter": "datum.kind === 'letter' || datum.kind === 'ringed'"}],
"mark": {"type": "text", "font": "Liberation Serif", "fontSize": 14, "color": "#d9d9d9"},
"encoding": {
"x": {"field": "t", "type": "temporal"},
"y": {"field": "p", "type": "quantitative"},
"text": {"field": "label"}
}
},
{
"data": {"name": "waves"}, "transform": [{"filter": "datum.kind === 'ringed'"}],
"mark": {"type": "point", "shape": "circle", "filled": false, "size": 330, "color": "#d9d9d9", "strokeWidth": 1.2},
"encoding": {
"x": {"field": "t", "type": "temporal"},
"y": {"field": "p", "type": "quantitative"}
}
},
{
"data": {"name": "waves"}, "transform": [{"filter": "datum.kind === 'number'"}],
"mark": {"type": "text", "font": "Liberation Sans", "fontSize": 13.5, "color": "#d9d9d9"},
"encoding": {
"x": {"field": "t", "type": "temporal"},
"y": {"field": "p", "type": "quantitative"},
"text": {"field": "label"}
}
},
{
"data": {"name": "waves"}, "transform": [{"filter": "datum.kind === 'circled'"}],
"mark": {"type": "text", "font": "DejaVu Sans", "fontSize": 15, "color": "#d9d9d9"},
"encoding": {
"x": {"field": "t", "type": "temporal"},
"y": {"field": "p", "type": "quantitative"},
"text": {"field": "label"}
}
},
{
"data": {"name": "waves"}, "transform": [{"filter": "datum.kind === 'alt'"}],
"mark": {"type": "text", "font": "Liberation Sans", "fontSize": 13.5, "color": "#cc1111"},
"encoding": {
"x": {"field": "t", "type": "temporal"},
"y": {"field": "p", "type": "quantitative"},
"text": {"field": "label"}
}
},
{
"data": {"values": [{"label": "© Ryan Wilday, Elliott Wave Trader"}]},
"mark": {"type": "text", "align": "right", "font": "Liberation Sans", "fontWeight": "bold", "fontSize": 18.5, "color": "#808080"},
"encoding": {
"x": {"datum": {"year": 2018, "month": 8, "date": 4, "hours": 22, "minutes": 15, "utc": true}, "type": "temporal"},
"y": {"datum": 641.5, "type": "quantitative"},
"text": {"field": "label"}
}
},
{
"data": {"name": "tags"},
"mark": {"type": "rect", "xOffset": 2, "x2Offset": 48, "yOffset": -6.5, "y2Offset": 6.5, "cornerRadius": 2},
"encoding": {
"x": {"datum": {"year": 2018, "month": 8, "date": 5, "hours": 8, "utc": true}, "type": "temporal"},
"x2": {"datum": {"year": 2018, "month": 8, "date": 5, "hours": 8, "utc": true}},
"y": {"field": "p", "type": "quantitative"}, "y2": {"field": "p"},
"color": {"field": "kind", "type": "nominal", "legend": null, "scale": {"domain": ["high", "last", "low"], "range": ["#cfe6fa", "#f4f1d6", "#f5b5b5"]}}
}
},
{
"data": {"name": "tags"},
"mark": {"type": "text", "dx": 25, "font": "Liberation Sans", "fontSize": 13, "color": "#141a2a"},
"encoding": {
"x": {"datum": {"year": 2018, "month": 8, "date": 5, "hours": 8, "utc": true}, "type": "temporal"},
"y": {"field": "p", "type": "quantitative"},
"text": {"field": "label"}
}
}
]
},
{
"layer": [
{
"data": {"name": "ma"},
"mark": {"type": "area", "color": "#3d2610"},
"encoding": {
"x": {"field": "t", "type": "temporal"},
"y": {"field": "v", "type": "quantitative", "axis": null, "scale": {"domain": [-1.8, 493.2], "nice": false, "zero": false}},
"y2": {"datum": 0}
}
},
{
"data": {"name": "bars"},
"mark": {"type": "rule", "strokeWidth": 2.4},
"encoding": {
"x": {"field": "t", "type": "temporal"},
"y": {"field": "v", "type": "quantitative", "axis": null},
"y2": {"datum": 0},
"color": {"condition": {"test": "datum.c >= datum.o", "value": "#9ccff2"}, "value": "#e85050"}
}
},
{
"data": {"name": "ma"},
"mark": {"type": "line", "color": "#ff6a10", "strokeWidth": 2},
"encoding": {
"x": {"field": "t", "type": "temporal"},
"y": {"field": "v", "type": "quantitative", "axis": null}
}
},
{
"data": {"values": [{"v": 0}]},
"mark": {"type": "rule", "color": "#707070", "strokeWidth": 1},
"encoding": {
"x": {"datum": {"year": 2018, "month": 6, "date": 28, "hours": 10, "utc": true}, "type": "temporal"},
"x2": {"datum": {"year": 2018, "month": 8, "date": 5, "hours": 8, "utc": true}},
"y": {"field": "v", "type": "quantitative", "axis": null}
}
},
{
"data": {"values": [{"label": "MotiveWave"}]},
"mark": {"type": "text", "align": "left", "dx": 3, "font": "Liberation Sans", "fontSize": 12, "color": "#d0d0d0", "opacity": 0.75},
"encoding": {
"x": {"datum": {"year": 2018, "month": 6, "date": 11, "hours": 2, "minutes": 30, "utc": true}, "type": "temporal"},
"y": {"datum": 5.5, "type": "quantitative", "axis": null},
"text": {"field": "label"}
}
},
{
"data": {"name": "voltag"},
"mark": {"type": "rect", "fill": "#f4f4f4", "xOffset": 2, "x2Offset": 48, "yOffset": -7, "y2Offset": 7},
"encoding": {
"x": {"datum": {"year": 2018, "month": 8, "date": 5, "hours": 8, "utc": true}, "type": "temporal"},
"x2": {"datum": {"year": 2018, "month": 8, "date": 5, "hours": 8, "utc": true}},
"y": {"field": "v", "type": "quantitative", "axis": null}, "y2": {"field": "v"}
}
},
{
"data": {"name": "voltag"},
"mark": {"type": "text", "dx": 20, "font": "Liberation Sans", "fontSize": 13, "color": "#111111"},
"encoding": {
"x": {"datum": {"year": 2018, "month": 8, "date": 5, "hours": 8, "utc": true}, "type": "temporal"},
"y": {"field": "v", "type": "quantitative", "axis": null},
"text": {"field": "label"}
}
},
{
"data": {"values": [{"label": "K", "v": 4.6}]},
"mark": {"type": "text", "dx": 44, "font": "Liberation Sans", "fontSize": 13, "color": "#111111"},
"encoding": {
"x": {"datum": {"year": 2018, "month": 8, "date": 5, "hours": 8, "utc": true}, "type": "temporal"},
"y": {"field": "v", "type": "quantitative", "axis": null},
"text": {"field": "label"}
}
},
{
"data": {"values": [{"label": "motivewave.com", "v": -5.9}]},
"mark": {"type": "text", "dx": 10, "font": "Liberation Sans", "fontSize": 11, "color": "#9a9a9a"},
"encoding": {
"x": {"datum": {"year": 2018, "month": 8, "date": 5, "hours": 8, "utc": true}, "type": "temporal"},
"y": {"field": "v", "type": "quantitative", "axis": null},
"text": {"field": "label"}
}
}
]
}
],
"resolve": {"scale": {"y": "independent"}}
}
